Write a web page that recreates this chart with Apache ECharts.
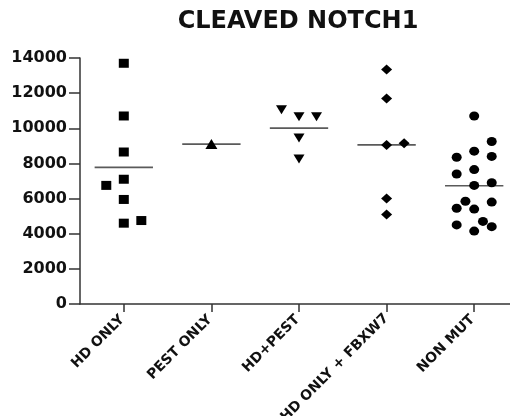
<!DOCTYPE html>
<html>
<head>
<meta charset="utf-8">
<script src="https://cdn.jsdelivr.net/npm/echarts@6.0.0/dist/echarts.min.js"></script>
<style>
  html, body { margin: 0; padding: 0; background: #fff; }
  #chart { width: 510px; height: 416px; }
</style>
</head>
<body>
<div id="chart"></div>
<script>
// Cleaved NOTCH1 levels per mutation group
const categories = ['HD ONLY', 'PEST ONLY', 'HD+PEST', 'HD ONLY + FBXW7', 'NON MUT'];
const hdOnly = [13700, 10700, 8650, 7100, 6750, 5950, 4600, 4750];
const pestOnly = [9100];
const hdPlusPest = [10650, 10650, 11050, 9450, 8250];
const hdOnlyFbxw7 = [13350, 11700, 9050, 9150, 6000, 5100];
const nonMut = [10700, 8700, 7650, 6750, 5400, 4150, 9250, 8350, 8400, 7400, 6900, 5800, 5450, 5850, 4400, 4500, 4700];
const yMin = 0, yMax = 14000, yStep = 2000;

const groups = [hdOnly, pestOnly, hdPlusPest, hdOnlyFbxw7, nonMut];
const symbols = [
  { symbol: 'rect', size: [10, 9], rotate: 0 },
  { symbol: 'triangle', size: [12, 10], rotate: 0 },
  { symbol: 'triangle', size: [11, 9], rotate: 180 },
  { symbol: 'diamond', size: [11, 10], rotate: 0 },
  { symbol: 'circle', size: [10, 9], rotate: 0 }
];

const GRID = { left: 80, top: 58, width: 438, height: 246 };
const pxPerUnit = GRID.height / (yMax - yMin);
const slotStep = 0.2;                       // column spacing, in category units
const slotPx = GRID.width / categories.length * slotStep;
const minGap = 10.5;                        // vertical clearance between symbols, px

// Spread colliding points sideways into columns (simple column scatter)
function spread(values) {
  const placed = [];
  const hits = (slot, y) => placed.filter(p => p.slot === slot && Math.abs(p.y - y) < minGap);
  return values.map(v => {
    const y = v * pxPerUnit;
    let slot = 0;
    const centre = hits(0, y);
    if (centre.length) {
      centre.sort((a, b) => Math.abs(a.y - y) - Math.abs(b.y - y));
      const dir = v >= centre[0].v ? 1 : -1;
      if (!hits(dir, y).length) slot = dir;
      else if (!hits(-dir, y).length) slot = -dir;
      else {
        let best = -1;
        [0, 0.5, -0.5, 1, -1].forEach(s => {
          const x = s * slotPx;
          let d = Infinity;
          placed.forEach(p => {
            d = Math.min(d, Math.hypot(p.slot * slotPx - x, p.y - y));
          });
          if (d > best + 1e-6) { best = d; slot = s; }
        });
      }
    }
    placed.push({ slot, y, v });
    return slot;
  });
}

const mean = arr => arr.reduce((a, b) => a + b, 0) / arr.length;

const scatterSeries = groups.map((vals, i) => {
  const slots = spread(vals);
  return {
    type: 'scatter',
    name: categories[i],
    xAxisIndex: 1,
    yAxisIndex: 0,
    symbol: symbols[i].symbol,
    symbolSize: symbols[i].size,
    symbolRotate: symbols[i].rotate,
    itemStyle: { color: '#000', opacity: 1 },
    z: 3,
    data: vals.map((v, k) => [i + slots[k] * slotStep, v])
  };
});

// Horizontal mean bar for each group
const meanSeries = {
  type: 'custom',
  xAxisIndex: 1,
  yAxisIndex: 0,
  z: 2,
  data: groups.map((vals, i) => [i, mean(vals)]),
  encode: { x: 0, y: 1 },
  renderItem: function (params, api) {
    const c = api.coord([api.value(0), api.value(1)]);
    const half = api.size([1, 0])[0] * 0.333;
    return {
      type: 'line',
      shape: { x1: c[0] - half, y1: c[1], x2: c[0] + half, y2: c[1] },
      style: { stroke: '#5a5a5a', lineWidth: 1.6 }
    };
  }
};

// Short labels sit a little lower than the long one
const axisCategories = categories.map(name => name.length > 10
  ? { value: name }
  : { value: name, textStyle: { padding: [16, 2, 0, 0] } });

const chart = echarts.init(document.getElementById('chart'), null, { renderer: 'canvas' });
chart.setOption({
  animation: false,
  backgroundColor: '#fff',
  graphic: [{
    type: 'text',
    x: 298, y: 22,
    style: {
      text: 'CLEAVED NOTCH1',
      fontFamily: 'DejaVu Sans',
      fontWeight: 'bold',
      fontSize: 24,
      fill: '#111',
      textAlign: 'center',
      textVerticalAlign: 'middle'
    }
  }],
  grid: {
    left: GRID.left, top: GRID.top, width: GRID.width, height: GRID.height,
    containLabel: false, outerBoundsMode: 'none'
  },
  xAxis: [{
    type: 'category',
    data: axisCategories,
    boundaryGap: true,
    axisLine: { show: true, onZero: false, lineStyle: { color: '#333', width: 1.5 } },
    axisTick: { show: true, alignWithLabel: true, length: 8, lineStyle: { color: '#333', width: 1.5 } },
    axisLabel: {
      rotate: 45, margin: 12, interval: 0,
      fontFamily: 'DejaVu Sans', fontWeight: 'bold', fontSize: 14, color: '#111'
    },
    splitLine: { show: false }
  }, {
    type: 'value',
    min: -0.5, max: categories.length - 0.5,
    show: false,
    splitLine: { show: false }
  }],
  yAxis: [{
    type: 'value',
    min: yMin, max: yMax, interval: yStep,
    axisLine: { show: true, onZero: false, lineStyle: { color: '#333', width: 1.5 } },
    axisTick: { show: true, length: 11, lineStyle: { color: '#333', width: 1.5 } },
    axisLabel: {
      margin: 13,
      formatter: v => String(v),
      fontFamily: 'DejaVu Sans', fontWeight: 'bold', fontSize: 16, color: '#111'
    },
    splitLine: { show: false }
  }],
  series: [meanSeries].concat(scatterSeries)
});
</script>
</body>
</html>
